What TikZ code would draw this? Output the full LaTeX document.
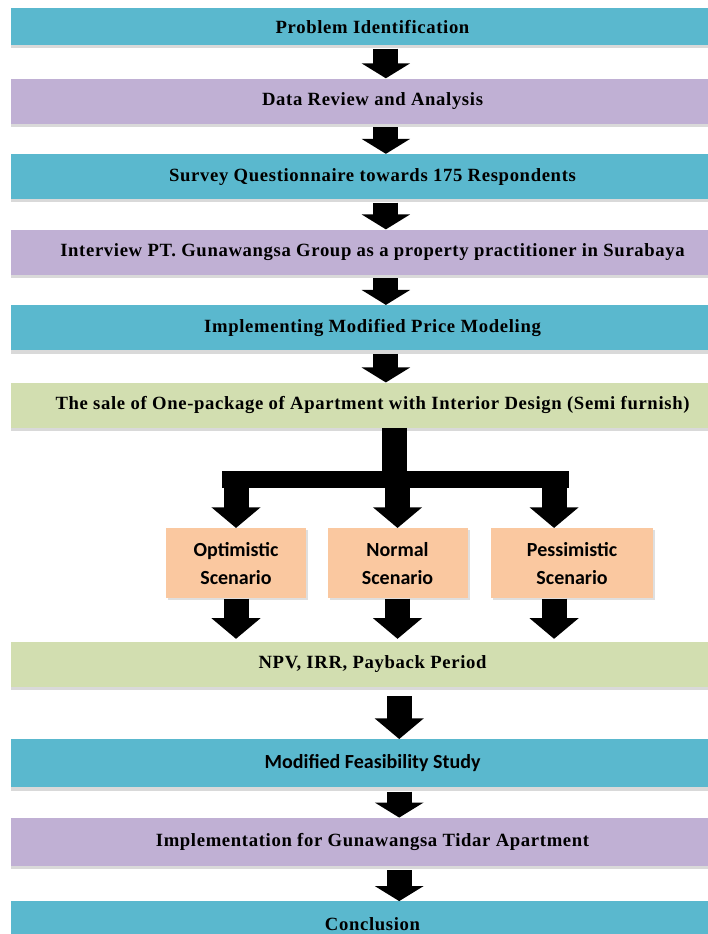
\documentclass[tikz,border=0pt]{standalone}
\usepackage{fontspec}
\setmainfont{Liberation Serif}[LetterSpace=3.5]
\newfontfamily\calibrifont{Carlito}
\usepackage{tikz}
\usetikzlibrary{arrows.meta,positioning,calc,shadows}
\definecolor{flowteal}{HTML}{5AB8CE}
\definecolor{flowlilac}{HTML}{C0B0D4}
\definecolor{flowolive}{HTML}{D2DEB0}
\definecolor{flowpeach}{HTML}{FAC8A0}
\tikzset{
  stagebar/.style={
    fill=flowteal,
    minimum width=542.25pt,
    minimum height=33.75pt,
    inner sep=0pt,
    font=\fontsize{14}{16}\selectfont\bfseries,
    drop shadow={shadow xshift=0pt,shadow yshift=-2.5pt,opacity=0.3}
  },
  lilacbar/.style={stagebar, fill=flowlilac},
  olivebar/.style={stagebar, fill=flowolive},
  scenbox/.style={
    fill=flowpeach,
    minimum width=105pt,
    minimum height=52.5pt,
    align=center,
    font=\calibrifont\bfseries\fontsize{15}{21}\selectfont,
    drop shadow={shadow xshift=1.5pt,shadow yshift=-1.5pt,opacity=0.25}
  },
  blockarrow/.style={
    line width=18.75pt,
    -{Triangle[length=11.25pt,width=36pt]}
  },
  forkarrow/.style={
    line width=18.75pt,
    -{Triangle[length=15.5pt,width=36pt]}
  }
}

\begin{document}
\begin{tikzpicture}[node distance=22.5pt]
\useasboundingbox (0,0) rectangle (530.25pt,-700.5pt);
\node[stagebar, minimum height=27.75pt] (problem) at (279.4pt,-19.9pt) {Problem Identification};
\node[lilacbar, below=24.75pt of problem] (review) {Data Review and Analysis};
\node[stagebar, below=of review] (survey) {Survey Questionnaire towards 175 Respondents};
\node[lilacbar, below=of survey] (interview) {Interview PT. Gunawangsa Group as a property practitioner in Surabaya};
\node[stagebar, below=of interview] (pricing) {Implementing Modified Price Modeling};
\node[olivebar, below=24pt of pricing] (sale) {The sale of One-package of Apartment with Interior Design (Semi furnish)};

% three scenarios
\node[scenbox, below=75pt of sale, xshift=18.75pt] (normal) {Normal\\Scenario};
\node[scenbox, left=15.75pt of normal] (optim) {Optimistic\\Scenario};
\node[scenbox, right=17.25pt of normal, minimum width=121.5pt] (pessim) {Pessimistic\\Scenario};
\coordinate[below=39pt of sale] (hub);
\coordinate (npvtop) at (normal.south -| sale.south);

\node[olivebar, below=32.25pt of npvtop] (npv) {NPV, IRR, Payback Period};
\node[stagebar, below=39pt of npv, minimum height=36pt, font=\calibrifont\bfseries\fontsize{15}{17}\selectfont] (feasible) {Modified Feasibility Study};
\node[lilacbar, below=of feasible, minimum height=36pt] (implement) {Implementation for Gunawangsa Tidar Apartment};
\node[stagebar, below=26.25pt of implement] (conclude) {Conclusion};

\draw[blockarrow, shorten <=2.5pt] ([xshift=10pt]problem.south) -- ([xshift=10pt]review.north);
\draw[blockarrow, shorten <=2.5pt] ([xshift=10pt]review.south) -- ([xshift=10pt]survey.north);
\draw[blockarrow, shorten <=2.5pt] ([xshift=10pt]survey.south) -- ([xshift=10pt]interview.north);
\draw[blockarrow, shorten <=2.5pt] ([xshift=10pt]interview.south) -- ([xshift=10pt]pricing.north);
\draw[blockarrow, shorten <=2.5pt] ([xshift=10pt]pricing.south) -- ([xshift=10pt]sale.north);

% fork to the scenarios
\draw[line width=18.75pt] ([xshift=16.5pt]sale.south) -- ([xshift=16.5pt]hub);
\draw[line width=12.75pt] ([xshift=-10.5pt]optim.north |- hub) -- ([xshift=-2.25pt]pessim.north |- hub);
\draw[forkarrow] (optim.north |- hub) -- (optim.north);
\draw[forkarrow] (normal.north |- hub) -- (normal.north);
\draw[forkarrow] ([xshift=-13.5pt]pessim.north |- hub) -- ([xshift=-13.5pt]pessim.north);

\draw[forkarrow, shorten >=2pt] (optim.south) -- (optim.south |- npv.north);
\draw[forkarrow, shorten >=2pt] (normal.south) -- (normal.south |- npv.north);
\draw[forkarrow, shorten >=2pt] ([xshift=-13.5pt]pessim.south) -- ([xshift=-13.5pt]pessim.south |- npv.north);

\draw[forkarrow, shorten <=7pt] ([xshift=20pt]npv.south) -- ([xshift=20pt]feasible.north);
\draw[blockarrow, shorten <=3pt] ([xshift=20pt]feasible.south) -- ([xshift=20pt]implement.north);
\draw[blockarrow, shorten <=3pt] ([xshift=20pt]implement.south) -- ([xshift=20pt]conclude.north);
\end{tikzpicture}
\end{document}
